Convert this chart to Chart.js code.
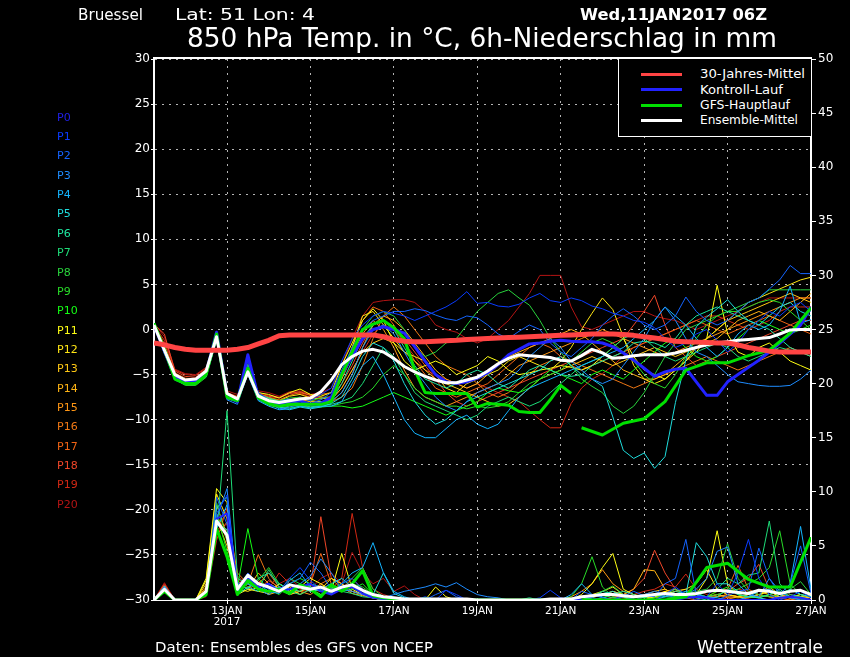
<!DOCTYPE html>
<html><head><meta charset="utf-8">
<script src="https://cdn.jsdelivr.net/npm/chart.js@4.4.0/dist/chart.umd.min.js"></script>
<style>
html,body{margin:0;padding:0;background:#000;}
#wrap{position:relative;width:850px;height:657px;overflow:hidden;background:#000;font-family:"DejaVu Sans",sans-serif;color:#fff;}
#c{position:absolute;left:0;top:0;}
.t{position:absolute;white-space:pre;transform-origin:0 0;line-height:1;}
.pl{position:absolute;left:57px;font-size:11px;line-height:1;white-space:nowrap;}
#legend{position:absolute;left:618px;top:58px;width:194px;height:79px;box-sizing:border-box;border:1px solid #fff;background:#000;}
.lg{position:absolute;left:22px;width:41px;height:3px;}
.lt{position:absolute;left:81px;font-size:12px;line-height:1;white-space:nowrap;transform-origin:0 0;}
</style></head>
<body>
<div id="wrap">
<canvas id="c" width="850" height="657"></canvas>
<div class="t fit" data-w="65" style="left:78px;top:7px;font-size:16px;">Bruessel</div>
<div class="t fit" data-w="140" style="left:175px;top:7px;font-size:16px;">Lat: 51 Lon: 4</div>
<div class="t fit" data-w="187" style="left:580px;top:7px;font-size:16px;font-weight:bold;">Wed,11JAN2017 06Z</div>
<div class="t fit" data-w="590" style="left:187px;top:25px;font-size:26px;">850 hPa Temp. in °C, 6h-Niederschlag in mm</div>
<div class="t fit" data-w="278" style="left:155px;top:640px;font-size:14px;">Daten: Ensembles des GFS von NCEP</div>
<div class="t fit" data-w="126" style="left:697px;top:638px;font-size:18px;">Wetterzentrale</div>
<div id="plabels"></div>
<div id="legend"></div>
</div>
<script>
// ---------- DATA ----------
const hours = [0,6,12,18,24,30,36,42,48,54,60,66,72,78,84,90,96,102,108,114,120,126,132,138,144,150,156,162,168,174,180,186,192,198,204,210,216,222,228,234,240,246,252,258,264,270,276,282,288,294,300,306,312,318,324,330,336,342,348,354,360,366,372,378];
const gfsHours2 = [246,258,270,282,294,306,318,330,342,354,366,378];
const dateTickHours = [42,90,138,186,234,282,330,378];
const dateTickLabels = [["13JAN","2017"],"15JAN","17JAN","19JAN","21JAN","23JAN","25JAN","27JAN"];
const tempTicks = [-30,-25,-20,-15,-10,-5,0,5,10,15,20,25,30];
const precipTicks = [0,5,10,15,20,25,30,35,40,45,50];
const memberNames = ["P0","P1","P2","P3","P4","P5","P6","P7","P8","P9","P10","P11","P12","P13","P14","P15","P16","P17","P18","P19","P20"];
const legendNames = ["30-Jahres-Mittel","Kontroll-Lauf","GFS-Hauptlauf","Ensemble-Mittel"];

// 30-year climatology (°C)
const climTemp = [-1.5,-1.7,-2.0,-2.2,-2.3,-2.3,-2.3,-2.3, -2.2,-2.0,-1.6,-1.2,-0.7,-0.6,-0.6,-0.6, -0.6,-0.6,-0.6,-0.6,-0.6,-0.6,-0.8,-1.1, -1.3,-1.35,-1.35,-1.3,-1.25,-1.2,-1.1,-1.05, -1.0,-0.95,-0.9,-0.85,-0.8,-0.75,-0.7,-0.65, -0.6,-0.55,-0.5,-0.5,-0.5,-0.55,-0.65,-0.8, -0.95,-1.1,-1.3,-1.35,-1.4,-1.45,-1.5,-1.5, -1.7,-2.0,-2.2,-2.4,-2.5,-2.5,-2.5,-2.5];
// Ensemble mean (°C)
const meanTemp = [0.5,-2.3,-5.0,-5.6,-5.5,-4.6,-0.8,-7.1, -7.7,-4.7,-7.4,-7.9,-8.1,-7.9,-7.7,-7.6, -6.9,-5.6,-3.9,-3.0,-2.4,-2.2,-2.5,-3.2, -4.1,-4.7,-5.2,-5.6,-5.9,-5.9,-5.6,-5.3, -4.6,-3.8,-3.2,-2.8,-2.9,-3.0,-3.1,-3.4, -3.5,-2.9,-2.2,-2.6,-3.2,-3.1,-2.9,-2.8, -2.8,-2.8,-2.6,-2.3,-2.0,-1.7,-1.5,-1.35, -1.2,-1.1,-1.0,-0.9,-0.5,-0.05,0.0,0.0];
// Control run P0 (°C)
const ctrlTemp = [0.5,-2.4,-5.3,-5.8,-5.8,-4.8,-0.3,-7.3, -8.0,-2.8,-7.5,-8.0,-8.3,-8.0,-7.9,-8.3, -8.2,-7.5,-5.0,-3.0,-1.0,0.0,0.3,0.0, -0.4,-1.9,-3.5,-5.0,-5.8,-6.0,-5.8,-5.4, -4.8,-3.9,-2.8,-2.2,-1.6,-1.5,-1.3,-1.2, -1.3,-1.35,-1.35,-1.5,-1.9,-2.6,-3.4,-4.3, -5.2,-4.7,-4.4,-4.3,-5.8,-7.3,-7.3,-5.8, -5.0,-4.2,-3.4,-2.5,-1.5,-0.5,0.5,2.5];
// GFS main run, high-res part (°C) and low-res part
const gfsTemp1 = [0.7,-2.2,-5.5,-6.0,-6.0,-5.0,-0.5,-7.5, -7.9,-4.3,-7.6,-8.2,-8.5,-8.3,-8.3,-8.3, -8.3,-8.0,-5.0,-2.5,0.0,0.6,1.0,0.2, -1.0,-4.5,-7.0,-7.1,-7.1,-7.1,-7.1,-8.6, -8.2,-8.3,-8.4,-9.1,-9.2,-9.2,-7.8,-6.2, -7.1];
const gfsTemp2 = [-10.9,-11.7,-10.4,-9.9,-8.0,-4.5,-3.7,-3.7,-2.9,-2.3,-0.4,2.4];

// Perturbed members P1..P20 (°C)
const p1T = [0.5,-2.2,-5.0,-5.8,-5.7,-4.6,-0.3,-7.2, -7.6,-3.5,-7.0,-7.8,-8.4,-8.1,-7.6,-7.9, -7.2,-6.5,-3.5,-1.0,0.5,1.5,2.0,1.8, 1.5,1.0,1.5,2.0,2.5,3.2,4.2,2.9, 3.0,2.6,2.5,2.8,3.5,4.0,3.2,3.0, 3.5,3.2,2.6,2.3,1.8,1.5,1.0,0.8, 0.2,-1.0,-2.0,-1.5,-0.5,0.0,-1.2,-2.5, -1.5,0.0,1.0,2.0,1.5,2.5,3.0,2.0];
const p2T = [0.7,-2.6,-5.4,-6.0,-6.0,-5.0,-0.9,-7.6, -8.1,-4.0,-7.8,-8.2,-8.0,-7.7,-7.9,-8.2, -7.8,-7.0,-4.5,-2.0,0.0,1.0,1.5,2.0, 2.0,2.3,2.1,1.6,1.2,1.0,1.5,1.3, 0.5,-0.5,-1.0,-0.2,0.5,0.0,-1.5,-2.5, -3.0,-2.0,-1.0,0.5,1.5,2.3,1.5,0.5, 0.0,0.5,1.5,3.6,2.0,1.0,0.5,1.0, 2.0,3.0,3.5,4.5,5.5,7.1,6.2,6.2];
const p3T = [0.6,-2.5,-5.6,-6.1,-6.0,-5.1,-1.0,-7.8, -8.3,-4.8,-7.6,-8.0,-8.8,-8.6,-8.3,-8.4, -8.2,-8.0,-7.0,-5.0,-2.0,0.0,0.5,-0.5, -2.5,-4.5,-6.0,-7.5,-8.5,-9.0,-8.0,-7.0, -6.5,-6.0,-5.5,-4.5,-3.0,-2.0,-1.0,-2.0, -3.5,-4.5,-5.5,-6.0,-5.5,-4.0,-2.5,-1.0, 1.0,2.5,1.0,-1.0,-2.5,-3.0,-4.0,-5.0, -5.8,-6.0,-6.2,-6.3,-6.3,-6.2,-5.5,-4.5];
const p4T = [0.4,-2.3,-5.3,-6.0,-5.9,-4.8,-0.6,-7.5, -8.0,-5.0,-7.9,-8.5,-8.9,-8.8,-8.5,-8.7, -8.5,-8.5,-8.0,-6.0,-4.0,-3.0,-5.0,-7.5, -10.0,-11.5,-12.0,-12.0,-11.0,-10.0,-9.5,-10.5, -11.0,-10.5,-9.0,-7.5,-6.5,-6.0,-5.5,-5.0, -4.5,-4.0,-3.5,-3.0,-2.5,-2.0,-1.0,0.0, 1.0,2.5,1.5,0.5,-1.0,-2.0,-3.0,-2.0, -0.5,0.5,0.0,0.5,2.0,4.8,0.7,1.1];
const p5T = [0.6,-2.4,-5.1,-5.9,-6.0,-5.2,-1.2,-7.4, -7.8,-4.6,-7.7,-8.3,-8.6,-8.9,-8.6,-8.8, -8.6,-8.2,-7.5,-5.5,-3.0,-1.5,-2.0,-3.5, -6.0,-8.0,-9.5,-10.5,-10.0,-9.0,-8.0,-7.5, -7.0,-6.5,-6.0,-5.5,-5.0,-4.5,-3.5,-3.0, -4.0,-5.0,-5.5,-6.3,-9.7,-13.4,-14.3,-13.7, -15.4,-14.1,-8.1,-3.4,0.3,1.4,2.3,3.3, 2.0,1.0,0.5,1.5,2.5,3.0,2.0,1.5];
const p6T = [0.5,-2.7,-5.2,-5.8,-5.8,-4.7,-0.7,-7.3, -7.7,-4.4,-7.2,-7.6,-8.0,-8.2,-8.0,-8.3, -8.0,-8.0,-6.0,-3.5,-1.0,0.5,1.0,0.0, -2.0,-4.0,-5.5,-6.0,-6.5,-6.0,-5.0,-4.5, -5.0,-6.0,-6.5,-5.5,-4.5,-4.0,-4.5,-5.0, -5.2,-5.0,-4.0,-3.5,-3.0,-2.5,-1.5,-1.3, -1.5,-2.0,-1.0,0.5,1.5,2.0,2.5,2.0, 1.5,1.0,0.5,0.0,-1.0,-2.0,-2.5,-3.0];
const p7T = [0.6,-2.4,-5.4,-6.1,-6.1,-5.0,-0.9,-7.6, -8.0,-4.1,-7.5,-8.0,-8.5,-8.4,-8.2,-8.6, -8.4,-8.3,-8.0,-7.5,-6.0,-4.0,-2.0,-3.0, -5.0,-7.0,-8.0,-8.5,-9.0,-9.5,-10.0,-9.5, -8.5,-8.0,-7.5,-8.0,-8.5,-8.0,-7.0,-6.0, -5.0,-4.0,-3.5,-3.0,-2.0,-1.0,-0.5,-1.0, -2.0,-3.0,-3.5,-3.0,-2.5,-2.0,-1.5,-2.0, -3.0,-3.5,-3.0,-2.5,-2.0,-2.3,-2.5,-2.5];
const p8T = [0.7,-2.2,-5.0,-5.7,-5.8,-4.9,-0.7,-7.2, -7.8,-3.8,-7.4,-7.7,-7.9,-7.6,-7.5,-7.9, -7.6,-7.5,-5.0,-2.5,0.0,1.5,2.0,1.5, 0.0,-2.0,-3.0,-2.5,-1.5,-1.0,0.5,2.0, 3.0,4.0,4.4,3.5,2.7,1.0,-1.0,-2.5, -4.0,-5.5,-6.3,-7.0,-8.5,-9.3,-8.5,-7.0, -5.0,-3.0,-1.5,0.0,0.5,1.0,1.5,2.0, 2.5,3.0,3.5,4.4,4.4,4.4,4.4,4.4];
const p9T = [0.6,-2.6,-5.5,-6.2,-6.2,-5.3,-1.1,-7.7, -8.0,-4.5,-7.8,-8.4,-8.7,-8.5,-8.4,-8.6, -8.5,-8.5,-8.2,-8.0,-7.5,-6.5,-5.0,-4.0, -5.0,-6.5,-7.5,-8.0,-8.5,-8.5,-8.8,-8.5, -8.7,-8.5,-8.0,-7.0,-6.0,-5.5,-5.0,-4.5, -3.5,-2.5,-1.5,-1.0,-1.5,-2.5,-3.5,-5.0, -6.0,-6.5,-5.0,-3.0,-1.0,0.5,1.5,2.0, 2.0,2.5,3.0,3.3,3.0,2.0,1.0,0.0];
const p10T = [0.6,-2.5,-5.3,-6.0,-6.0,-5.0,-0.8,-7.5, -8.1,-4.3,-7.7,-8.2,-8.6,-8.7,-8.5,-8.6, -8.6,-8.5,-8.5,-8.7,-8.5,-8.0,-7.5,-7.0, -7.5,-8.0,-8.5,-9.0,-9.5,-9.0,-8.5,-8.0, -7.0,-6.5,-6.8,-7.0,-6.5,-5.5,-4.5,-5.0, -5.5,-6.0,-5.0,-4.5,-5.0,-5.5,-4.5,-3.5, -2.5,-1.5,-1.0,-2.0,-3.0,-3.5,-3.0,-2.0, -1.0,0.0,1.0,0.5,0.0,-0.5,0.0,0.5];
const p11T = [0.5,-2.4,-5.0,-5.7,-5.6,-4.6,-0.5,-7.1, -7.6,-4.0,-7.0,-7.2,-7.6,-7.0,-6.6,-7.2, -7.4,-7.0,-4.0,-1.5,1.0,2.3,1.0,-1.5, -3.5,-4.5,-4.0,-3.5,-4.0,-5.0,-4.5,-4.0, -3.0,-3.5,-4.5,-5.0,-4.8,-4.5,-4.3,-4.0, -4.2,-4.5,-4.0,-3.0,-2.0,-1.0,-3.0,-4.5, -5.0,-5.5,-4.5,-3.5,-2.5,-1.0,4.9,-0.5, -2.5,-3.0,-2.0,-1.5,-2.5,-3.5,-4.0,-4.5];
const p12T = [0.6,-2.5,-5.2,-5.9,-5.9,-4.9,-0.6,-7.3, -7.8,-4.4,-7.3,-7.6,-7.9,-7.4,-7.2,-7.6, -7.7,-7.5,-5.5,-2.0,1.5,2.0,0.5,-1.0, -2.5,-3.0,-3.5,-5.0,-6.5,-7.0,-6.0,-5.5, -5.0,-4.5,-3.5,-3.0,-3.5,-4.0,-4.5,-3.5, -2.0,0.0,1.8,3.5,2.2,-0.8,-4.0,-5.5, -6.0,-5.5,-4.5,-3.5,-2.0,-1.0,0.0,1.0, 2.0,3.0,3.5,4.0,4.5,5.0,5.5,5.8];
const p13T = [0.6,-2.3,-5.1,-5.8,-5.8,-4.8,-0.8,-7.4, -7.9,-4.6,-7.6,-8.0,-8.2,-7.9,-7.6,-7.9, -8.0,-7.8,-6.5,-4.5,-2.5,-1.5,-1.0,-1.5, -2.5,-3.5,-4.5,-5.5,-6.0,-6.5,-7.0,-7.5, -8.0,-8.5,-8.3,-7.5,-6.5,-5.5,-5.0,-4.5, -4.0,-3.5,-3.0,-3.5,-4.0,-3.5,-3.0,-2.5, -2.0,-2.5,-3.0,-2.5,-2.0,-1.0,0.0,1.0, 1.5,2.0,2.5,3.0,3.5,4.0,3.5,3.0];
const p14T = [0.5,-2.4,-5.4,-6.0,-5.9,-4.9,-1.0,-7.5, -8.0,-4.2,-7.4,-7.9,-8.3,-8.0,-7.8,-8.0, -8.0,-8.0,-7.0,-5.0,-2.0,0.5,1.5,1.0, 0.0,-1.5,-3.0,-4.5,-5.5,-6.0,-6.5,-6.0, -5.0,-4.0,-3.0,-2.5,-2.0,-1.5,-1.0,-0.5, 0.0,-0.5,-1.5,-2.5,-3.5,-4.5,-5.0,-5.5, -5.5,-5.0,-4.0,-3.0,-2.0,-1.5,-1.0,0.0, 1.0,1.5,2.0,1.5,1.0,2.0,3.0,4.0];
const p15T = [0.6,-2.4,-5.1,-5.8,-5.8,-4.8,-0.7,-7.2, -7.7,-4.0,-7.2,-7.7,-8.0,-7.8,-7.5,-7.7, -7.6,-7.5,-5.5,-3.0,-0.5,1.0,0.0,-2.0, -4.5,-6.5,-7.5,-8.0,-8.5,-8.0,-7.5,-7.0, -6.5,-6.0,-5.0,-4.0,-3.5,-3.0,-2.5,-2.0, -1.5,-1.0,-0.5,0.0,-0.5,-1.0,-1.5,-2.0, -2.5,-3.0,-2.5,-2.0,-1.5,-1.0,-0.5,0.0, 0.5,1.0,1.5,2.0,2.5,3.0,3.5,3.5];
const p16T = [0.5,-2.2,-5.0,-5.6,-5.6,-4.6,-0.9,-7.4, -7.9,-4.7,-7.6,-8.1,-8.2,-7.8,-7.7,-8.0, -8.1,-8.0,-7.5,-6.5,-4.0,-1.0,1.5,2.5, 1.5,0.0,-1.5,-3.0,-4.0,-4.5,-5.0,-6.0, -7.0,-7.5,-7.0,-6.0,-5.0,-4.0,-3.5,-3.0, -3.5,-4.0,-4.5,-5.0,-5.5,-6.0,-6.5,-6.0, -5.5,-5.0,-4.5,-4.0,-3.5,-3.0,-3.5,-4.0, -4.5,-4.0,-3.5,-3.0,-2.5,-2.0,-2.5,-3.0];
const p17T = [0.6,-1.6,-4.8,-5.4,-5.5,-4.5,-0.6,-7.0, -7.5,-4.4,-7.1,-7.5,-7.8,-7.3,-7.0,-7.3, -7.2,-7.0,-5.0,-2.0,1.0,2.5,2.0,0.5, -1.5,-3.5,-5.0,-6.5,-7.0,-7.5,-7.0,-6.5, -6.0,-5.0,-4.0,-3.0,-2.0,-1.5,-2.0,-3.0, -4.0,-4.5,-4.0,-3.5,-3.0,-2.5,-2.0,-1.5, -1.0,-0.5,0.0,0.5,1.0,0.5,0.0,-0.5, 0.0,0.5,1.0,1.5,1.0,0.5,0.0,-0.5];
const p18T = [0.6,-0.5,-4.6,-5.2,-5.3,-4.4,-0.8,-7.2, -7.6,-4.9,-7.2,-7.4,-7.6,-7.1,-6.9,-7.3, -7.5,-7.5,-6.0,-4.0,-1.5,0.5,1.0,0.0, -1.0,-2.5,-4.0,-5.5,-7.0,-8.0,-8.5,-8.0, -7.5,-7.0,-6.5,-6.0,-5.5,-5.0,-4.5,-4.0, -3.5,-3.0,-2.5,-2.0,-1.5,-1.0,0.5,2.0, 3.8,0.5,-2.0,-3.0,-4.0,-3.5,-3.0,-2.5, -2.0,-1.5,-1.0,-0.5,0.0,0.5,1.0,1.0];
const p19T = [0.5,-1.2,-4.5,-5.0,-5.1,-4.3,-1.0,-7.0, -7.4,-5.1,-7.0,-7.3,-7.5,-7.0,-7.1,-7.5, -7.6,-7.8,-6.5,-4.5,-2.5,-0.5,0.5,0.0, -1.5,-3.0,-4.5,-5.0,-5.5,-6.0,-6.5,-6.0, -6.5,-7.0,-7.5,-8.0,-9.0,-10.0,-10.9,-10.9, -8.2,-6.5,-5.5,-4.9,-4.0,-3.0,-2.0,-1.5, -1.0,-0.5,0.0,0.5,1.0,1.5,1.5,1.0, 0.5,0.0,0.5,1.0,2.0,2.5,2.5,2.5];
const p20T = [0.7,-0.8,-4.4,-4.9,-5.0,-4.2,-1.3,-6.8, -7.2,-5.0,-6.8,-7.0,-7.4,-6.9,-6.8,-7.2, -7.0,-6.5,-4.0,-1.0,1.5,3.0,3.2,3.3, 3.3,3.0,2.0,0.5,0.0,-0.3,-1.0,-1.5, -1.0,0.0,1.0,2.5,4.0,6.0,6.0,6.0, 2.5,0.3,0.0,0.5,1.0,1.5,2.0,2.0, 1.5,1.2,1.0,0.5,0.0,0.5,1.0,1.5, 2.0,2.5,3.0,3.5,3.5,3.5,3.5,3.5];

// 6h precipitation (mm)
const meanPrcp = [0,1.0,0,0,0,0.8,7.3,6.0, 1.0,2.3,1.5,1.2,0.8,1.4,1.2,1.0, 1.2,0.8,1.2,1.4,0.9,0.5,0.3,0.2, 0.1,0.1,0.1,0.1,0.1,0.1,0.1,0, 0,0,0,0,0,0,0.1,0.1, 0.1,0.3,0.4,0.5,0.5,0.4,0.3,0.4, 0.5,0.6,0.5,0.5,0.6,0.8,0.9,0.8, 0.7,0.6,0.9,0.8,0.6,0.8,0.9,0.5];
const ctrlPrcp = [0,1.0,0,0,0,0.6,7.5,8.0, 1.0,2.0,1.2,1.5,0.8,1.0,1.2,1.5, 0.8,0.5,1.0,1.2,0.6,0.2,0.1,0, 0,0,0,0,0,0,0,0, 0,0,0,0,0,0,0,0, 0,0,0,0,0,0,0,0, 0,0,0,0.2,0.3,0.2,0,0, 0,0,0,0,0.2,0.3,0.2,0];
const gfsPrcp1 = [0,0.8,0,0,0,0.5,6.6,4.0, 0.5,1.8,1.0,0.8,1.0,0.6,1.4,1.0, 0.3,1.4,0.8,1.5,2.7,0.4,0.2,0.1, 0,0,0.1,0,0,0,0,0, 0,0,0,0,0,0,0,0, 0];
const gfsPrcp2 = [0,0,0,0,0,0.3,3.0,3.4,1.9,1.2,1.2,5.8];
const p1P = [0,1.2,0,0,0,0.8,8.0,9.7, 1.0,2.5,1.5,1.0,0.8,2.0,3.0,1.8, 1.0,0.5,1.5,2.0,1.0,0.3,0.2,0, 0,0,0.3,0,0.9,0.5,0,0, 0,0,0,0,0,0.2,0.9,0.2, 0,0.3,0.2,0,0,0.5,0.3,0, 0,0.5,1.2,0.5,0,0.3,1.5,0.5, 2.5,5.6,2.0,0.5,0,0.3,0.8,0.2];
const p2P = [0,1.0,0,0,0,0.6,9.5,7.0, 1.5,1.8,1.2,0.7,1.0,1.5,2.0,3.5, 2.5,1.0,0.8,1.2,0.8,0.5,0.2,0, 0,0,0,0.5,0.9,0.3,0,0, 0,0,0,0,0,0,0,0, 0,0.8,0.5,0.2,0,0.3,0.8,0.4, 0.3,1.5,2.0,5.6,0.5,0.2,0,0.4, 0.8,1.0,4.8,2.0,0.5,1.5,5.0,0.6];
const p3P = [0,0.9,0,0,0,0.5,7.5,10.3, 0.8,1.5,1.0,0.5,1.2,1.0,1.5,2.2, 3.8,2.5,1.0,0.8,0.5,0.3,0.2,0.5, 0.8,1.0,1.2,1.5,1.2,1.6,1.0,0.5, 0.3,0.2,0,0,0,0,0,0, 0,0,0,0,0,0,0.2,0.5, 0.8,0.5,0.2,0.5,1.0,2.0,4.5,4.9, 1.5,0.5,0.3,2.0,0.8,0.2,0,0];
const p4P = [0,1.1,0,0,0,0.4,6.5,8.8, 1.2,2.0,1.5,0.8,0.6,1.8,2.5,1.2, 0.8,0.6,1.5,2.5,3.0,5.3,2.5,0.8, 0.3,0,0,0,0,0,0,0, 0,0,0,0,0,0,0,0, 0.5,1.5,0.5,0.3,0,0,0,0, 0,0.3,0.5,0.8,0.5,0.3,0.2,0, 0,0.3,0.8,1.0,0.5,1.5,6.8,1.0];
const p5P = [0,1.3,0,0,0,0.7,8.5,9.5, 0.5,1.2,0.8,1.5,1.0,0.5,1.2,0.8, 1.0,1.5,2.0,1.2,0.6,0.5,2.5,0.6, 0.2,0,0,0,0,0,0,0, 0,0,0,0,0,0,0,0, 0,0.2,0.3,0.5,0.8,0.3,0,0, 0,0,0.2,0.5,5.3,4.0,1.5,1.5, 0.8,0.5,0.2,0,0.3,1.0,0.5,0.3];
const p6P = [0,0.8,0,0,0,0.5,7.0,6.5, 1.5,1.0,2.0,2.5,1.5,1.0,0.8,1.5, 1.2,0.8,1.0,1.5,0.8,0.3,0.1,0, 0,0,0,0,0,0,0,0, 0,0,0,0,0.2,0,0,0, 0,0,0.2,0.8,0.5,0.8,0.5,0.2, 0.5,0.3,0.8,0.5,0.2,0,0.3,1.0, 0.5,0.3,0.2,0.5,1.0,0.3,0,0];
const p7P = [0,1.0,0,0,0,0.6,6.0,17.5, 2.0,1.5,1.0,2.8,1.2,0.8,0.5,1.0, 0.5,1.2,0.8,0.6,0.3,0.2,0,0, 0,0,0,0,0,0,0,0, 0,0,0,0,0,0,0,0, 0,0,0.3,0.5,0.2,0,0,0, 0,0.5,1.0,0.5,0.3,0.8,1.0,2.0, 1.5,2.3,2.5,7.3,1.5,0.5,0.3,0];
const p8P = [0,1.1,0,0,0,0.9,9.0,5.5, 0.8,2.0,1.5,1.2,0.8,2.0,1.5,1.2, 0.8,1.0,1.5,2.0,3.0,1.0,0.3,0, 0,0,0,0,0,0,0,0, 0,0,0,0,0,0,0,0, 0,0,0.4,0.8,1.3,0.5,0.3,0.2, 0.5,0.3,0.2,0.5,0.8,1.0,2.0,5.2, 2.0,0.8,0.5,0.3,0.5,1.0,1.7,0.5];
const p9P = [0,0.9,0,0,0,0.6,7.5,6.0, 1.0,1.2,1.8,3.0,1.5,1.0,1.2,0.8, 1.0,0.5,1.0,1.5,1.2,0.5,0.2,0, 0,0,0,0,0,0,0,0, 0,0,0,0,0,0,0,0, 0.3,1.5,4.0,1.2,0.3,0,0,0, 0,0,0.3,0.8,0.5,0.3,0.5,0.8, 1.0,1.5,2.0,3.0,6.4,1.5,0.5,0.3];
const p10P = [0,1.0,0,0,0,0.8,8.0,4.5, 1.2,6.6,2.0,1.0,0.5,1.5,2.0,1.5, 0.8,1.2,0.8,1.0,1.5,0.5,0.2,0, 0,0,0,0,0,0,0,0, 0,0,0,0,0,0,0,0, 0,0,0,0.2,0.5,0.3,0,0, 0.2,0.5,0.3,0.2,0.5,0.3,0.8,1.2, 0.5,0.3,0.2,0.5,0.8,0.3,0.2,0];
const p11P = [0,1.0,0,0,0,2.0,10.3,9.0, 0.5,1.0,0.8,0.6,1.5,0.8,1.2,2.0, 1.5,0.8,4.3,1.0,0.5,0.2,0,0, 0,0,0,1.2,0.3,0,0,0, 0,0,0,0,0,0,0,0, 0,0.5,1.5,3.0,4.3,1.0,0.5,0.2, 0.3,0.8,0.5,0.3,0.5,2.0,6.4,1.5, 0.5,0.3,0.5,0.8,0.3,0.2,0.5,0.3];
const p12P = [0,0.8,0,0,0,1.8,9.8,7.5, 1.0,0.8,1.2,1.5,1.0,0.5,0.8,1.2, 1.0,2.0,1.5,0.8,0.5,0.2,0,0, 0,0,0,0,0,0,0,0, 0,0,0,0,0,0,0,0, 0,0.3,0.5,0.8,1.2,0.5,0.3,0, 0.3,0.5,0.8,1.0,1.5,2.8,1.0,0.5, 0.3,0.5,0.8,1.2,0.5,0.2,0.3,0.5];
const p13P = [0,1.2,0,0,0,1.5,8.8,6.0, 0.8,1.5,1.0,0.5,0.8,1.2,0.5,1.0, 0.8,1.0,0.8,1.2,0.6,0.3,0.1,0, 0,0,0,0,0,0,0,0, 0,0,0,0,0,0,0,0, 0,0,0.2,0.5,0.8,0.5,0.3,0.5, 0.8,1.0,0.5,0.3,0.5,0.8,1.0,0.5, 0.3,0.5,0.8,0.5,0.3,0.2,0.3,0.2];
const p14P = [0,0.9,0,0,0,1.2,7.5,5.0, 1.5,1.0,2.5,1.5,1.0,0.8,1.5,1.0, 0.5,0.8,1.2,0.6,0.4,0.2,0,0, 0,0,0,0,0,0,0,0, 0,0,0,0,0,0,0,0, 0,0,0.3,0.5,0.8,0.5,1.0,2.8, 2.7,1.0,0.5,0.3,0.2,0.3,0.5,0.3, 0.2,0.3,0.5,0.3,0.2,0.3,0.5,0.2];
const p15P = [0,0.8,0,0,0,1.0,8.0,5.5, 1.0,2.0,1.2,0.8,1.5,1.0,0.8,0.5, 1.2,0.8,1.0,1.5,0.8,0.3,0.1,0, 0,0,0,0,0,0,0,0, 0,0,0,0,0,0,0,0, 0.3,0.8,1.5,2.8,1.5,0.8,0.5,0.3, 0.5,0.8,1.0,0.5,0.3,0.2,0.3,0.5, 0.3,0.2,0.5,0.8,0.3,0.2,0.3,0.2];
const p16P = [0,1.1,0,0,0,0.8,6.8,8.0, 2.5,1.5,4.2,2.0,1.0,0.8,1.2,0.8, 1.5,2.0,1.0,0.8,0.5,0.3,0.2,0, 0,0,0,0,0,0,0,0, 0,0,0,0,0,0,0,0, 0,0,0,0.2,0.5,0.3,0,0, 0.2,0.3,0.5,0.2,0,0.3,0.5,0.2, 0,0.2,0.3,0.5,0.2,0,0.2,0];
const p17P = [0,1.3,0,0,0,0.6,6.0,7.2, 1.8,1.0,1.5,2.5,1.2,1.0,0.5,1.5, 4.3,1.5,1.0,2.0,1.0,0.5,0.2,0, 0,0,0,0,0,0,0,0, 0,0,0,0,0,0,0,0, 0,0,0,0,0.3,0.2,0,0, 0.3,0.5,0.8,1.0,0.5,0.3,0.8,1.0, 3.2,1.0,0.5,0.3,0.2,0.5,0.3,0];
const p18P = [0,1.4,0,0,0,0.5,7.0,6.5, 1.5,2.0,1.0,1.8,1.2,0.5,0.8,1.2, 7.7,2.0,1.5,0.8,0.5,0.3,0.2,0, 0,0,0,0,0,0,0,0, 0,0,0,0,0,0,0,0, 0,0,0,0,0.2,0.5,1.0,2.0, 4.6,2.5,1.0,0.5,0.3,0.2,0.5,0.8, 1.5,2.0,3.3,1.0,0.5,0.3,0.2,0];
const p19P = [0,1.5,0,0,0,0.4,5.5,8.5, 2.0,1.2,1.8,1.0,2.5,1.5,1.0,0.8, 1.5,1.0,2.0,8.0,3.0,1.0,0.5,0.2, 0,0,0,0,0,0,0,0, 0,0,0,0,0,0,0,0, 0,0,0,0,0,0.3,0.5,0.8, 1.0,1.5,1.2,2.4,1.0,0.5,0.3,0.5, 1.0,0.8,0.5,0.3,0.2,0,0.2,0];
const p20P = [0,1.6,0,0,0,0.3,6.5,7.0, 2.2,1.5,1.0,0.8,1.5,2.0,1.2,1.0, 2.0,2.5,1.5,4.4,2.5,1.5,2.0,0.8, 1.3,0.5,0,0,0,0,0,0, 0,0,0,0,0,0,0,0, 0,0,0,0,0,0,0,0, 0,0,0,0.3,0.5,0.3,0,0.2, 0.5,0.3,0.2,0,0.2,0.3,0.2,0];

const memberTemp = [p1T,p2T,p3T,p4T,p5T,p6T,p7T,p8T,p9T,p10T,p11T,p12T,p13T,p14T,p15T,p16T,p17T,p18T,p19T,p20T];
const memberPrcp = [p1P,p2P,p3P,p4P,p5P,p6P,p7P,p8P,p9P,p10P,p11P,p12P,p13P,p14P,p15P,p16P,p17P,p18P,p19P,p20P];

// ---------- STYLE ----------
const memberColors = ['#2020e6','#0a3cff','#1464ff','#1e8cff','#14b4ff','#1edcdc','#1ee6a0','#1edc78','#28d23c','#28dc28','#14ff14','#ffff14','#ffe614','#ffc814','#ffb414','#ff9614','#f07814','#f06414','#f04628','#d22814','#b41414'];
const C_CLIM = '#ff4444', C_CTRL = '#2222ff', C_GFS = '#00e000', C_MEAN = '#ffffff';
const FONT = '"DejaVu Sans", sans-serif';

// labels P0..P20
const pl = document.getElementById('plabels');
memberNames.forEach((n, k) => {
  const d = document.createElement('div');
  d.className = 'pl';
  d.textContent = n;
  d.style.top = (111.7 + k * 19.35) + 'px';
  d.style.color = memberColors[k];
  pl.appendChild(d);
});
// legend
const lg = document.getElementById('legend');
const lgCols = [C_CLIM, C_CTRL, C_GFS, C_MEAN];
const lgW = [105, 83, 90, 98];
legendNames.forEach((n, k) => {
  const yc = [74, 89.5, 105, 120][k] - 59;
  const s = document.createElement('div');
  s.className = 'lg'; s.style.top = (yc - 1.5) + 'px'; s.style.background = lgCols[k];
  lg.appendChild(s);
  const t = document.createElement('div');
  t.className = 'lt fit'; t.textContent = n; t.dataset.w = lgW[k];
  t.style.top = (yc - 5.6) + 'px';
  lg.appendChild(t);
});

function pts(h, v) { return v.map((y, i) => ({x: h[i], y: y})); }
const base = {pointRadius: 0, pointHoverRadius: 0, tension: 0, fill: false, borderJoinStyle: 'round', spanGaps: false};
const datasets = [];
datasets.push(Object.assign({label: legendNames[0], data: pts(hours, climTemp), borderColor: C_CLIM, borderWidth: 5, yAxisID: 'y'}, base));
datasets.push(Object.assign({label: legendNames[3], data: pts(hours, meanTemp), borderColor: C_MEAN, borderWidth: 3, yAxisID: 'y'}, base));
datasets.push(Object.assign({label: legendNames[2], data: pts(hours, gfsTemp1), borderColor: C_GFS, borderWidth: 3, yAxisID: 'y'}, base));
datasets.push(Object.assign({label: legendNames[2] + ' 2', data: pts(gfsHours2, gfsTemp2), borderColor: C_GFS, borderWidth: 3, yAxisID: 'y'}, base));
datasets.push(Object.assign({label: legendNames[1], data: pts(hours, ctrlTemp), borderColor: C_CTRL, borderWidth: 3, yAxisID: 'y'}, base));
memberTemp.forEach((arr, k) => {
  datasets.push(Object.assign({label: memberNames[k + 1], data: pts(hours, arr), borderColor: memberColors[k + 1], borderWidth: 1, yAxisID: 'y'}, base));
});
datasets.push(Object.assign({label: 'mean prcp', data: pts(hours, meanPrcp), borderColor: C_MEAN, borderWidth: 3, yAxisID: 'y1'}, base));
datasets.push(Object.assign({label: 'gfs prcp', data: pts(hours, gfsPrcp1), borderColor: C_GFS, borderWidth: 3, yAxisID: 'y1'}, base));
datasets.push(Object.assign({label: 'gfs prcp 2', data: pts(gfsHours2, gfsPrcp2), borderColor: C_GFS, borderWidth: 3, yAxisID: 'y1'}, base));
datasets.push(Object.assign({label: 'ctrl prcp', data: pts(hours, ctrlPrcp), borderColor: C_CTRL, borderWidth: 2, yAxisID: 'y1'}, base));
memberPrcp.forEach((arr, k) => {
  datasets.push(Object.assign({label: memberNames[k + 1] + ' prcp', data: pts(hours, arr), borderColor: memberColors[k + 1], borderWidth: 1, yAxisID: 'y1'}, base));
});

const topLine = {
  id: 'topLine',
  afterDraw(chart) {
    const a = chart.chartArea, ctx = chart.ctx;
    ctx.save();
    ctx.strokeStyle = '#fff'; ctx.lineWidth = 2;
    ctx.beginPath(); ctx.moveTo(a.left - 1, a.top - 1); ctx.lineTo(a.right + 1, a.top - 1); ctx.stroke();
    ctx.restore();
  }
};

const minus = v => (v < 0 ? '\u2212' + Math.abs(v) : String(v));

new Chart(document.getElementById('c'), {
  type: 'line',
  data: {datasets: datasets},
  plugins: [topLine],
  options: {
    responsive: false, animation: false, devicePixelRatio: 1,
    layout: {padding: {top: 59, left: 0, right: 0, bottom: 0}},
    plugins: {legend: {display: false}, tooltip: {enabled: false}, title: {display: false}},
    elements: {line: {borderCapStyle: 'butt'}},
    scales: {
      x: {
        type: 'linear', min: 0, max: 378,
        afterBuildTicks: s => { s.ticks = dateTickHours.map(v => ({value: v})); },
        afterFit: s => { s.height = 57; },
        ticks: {autoSkip: false, maxRotation: 0, minRotation: 0, color: '#fff', padding: 1,
          font: {family: FONT, size: 10.5, lineHeight: 1.1},
          callback: (v, i) => dateTickLabels[i]},
        grid: {color: '#b4b4b4', lineWidth: 1, tickColor: '#fff', tickLength: 4, drawTicks: true},
        border: {display: true, color: '#fff', width: 1, dash: [2, 5]}
      },
      y: {
        type: 'linear', position: 'left', min: -30, max: 30,
        afterBuildTicks: s => { s.ticks = tempTicks.map(v => ({value: v})); },
        afterFit: s => { s.width = 154; },
        ticks: {color: '#fff', padding: 1, font: {family: FONT, size: 12}, callback: v => minus(v)},
        grid: {color: '#b4b4b4', lineWidth: 1, tickColor: '#fff', tickLength: 3, drawTicks: true},
        border: {display: true, color: '#fff', width: 2, dash: [2, 5]}
      },
      y1: {
        type: 'linear', position: 'right', min: 0, max: 50,
        afterBuildTicks: s => { s.ticks = precipTicks.map(v => ({value: v})); },
        afterFit: s => { s.width = 39; },
        ticks: {color: '#fff', padding: 2, font: {family: FONT, size: 12}, callback: v => String(v)},
        grid: {drawOnChartArea: false, color: '#fff', tickColor: '#fff', tickLength: 5, drawTicks: true},
        border: {display: true, color: '#fff', width: 2}
      }
    }
  }
});

function fitAll() {
  document.querySelectorAll('.fit').forEach(el => {
    el.style.transform = 'none';
    const r = el.getBoundingClientRect().width;
    const w = parseFloat(el.dataset.w);
    if (r > 0 && w > 0) el.style.transform = 'scaleX(' + (w / r) + ')';
  });
}
fitAll();
if (document.fonts && document.fonts.ready) document.fonts.ready.then(fitAll);
</script>
</body></html>
